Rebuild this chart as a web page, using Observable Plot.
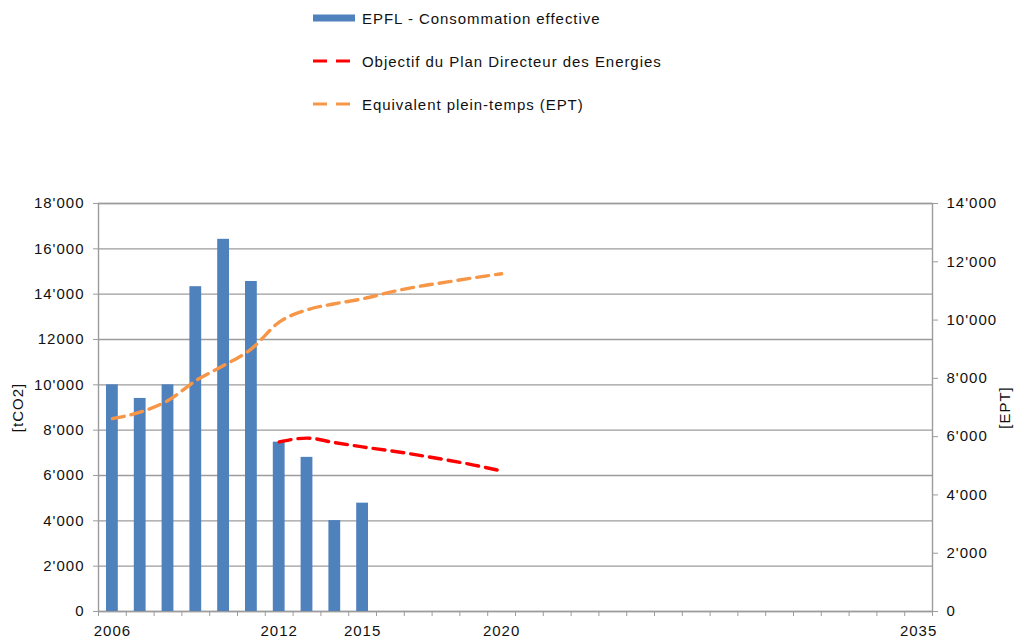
<!DOCTYPE html>
<html>
<head>
<meta charset="utf-8">
<script src="https://cdn.jsdelivr.net/npm/d3@7"></script>
<script src="https://cdn.jsdelivr.net/npm/@observablehq/plot@0.6"></script>
<style>
  html, body { margin: 0; padding: 0; background: #fff; }
  body { width: 1014px; height: 641px; overflow: hidden; font-family: "Liberation Sans", Arial, sans-serif; }
  #legend { position: relative; height: 150px; }
  .item { position: absolute; left: 313px; height: 20px; display: flex; align-items: center; font-size: 15px; letter-spacing: 0.95px; color: #111; }
  .item svg { margin-right: 6px; }
</style>
</head>
<body>
<div id="legend"></div>
<div id="chart"></div>
<script>
// ---- data ----
const categoryFirst = 2006;
const categoryLast = 2035;
const xTickLabels = [2006, 2012, 2015, 2020, 2035];

const barYears  = [2006, 2007, 2008, 2009, 2010, 2011, 2012, 2013, 2014, 2015];
const barValues = [10000, 9400, 10000, 14330, 16420, 14560, 7470, 6800, 4010, 4780];

const targetYears  = [2012, 2013, 2014, 2015, 2016, 2017, 2018, 2019, 2020];
const targetValues = [7480, 7650, 7450, 7260, 7090, 6900, 6690, 6460, 6200];

const eptYears  = [2006, 2007, 2008, 2009, 2010, 2011, 2012, 2013, 2014, 2015, 2016, 2017, 2018, 2019, 2020];
const eptValues = [6620, 6840, 7240, 7920, 8440, 9010, 9930, 10350, 10560, 10730, 10960, 11150, 11300, 11450, 11590];

const leftTicks = [0, 2000, 4000, 6000, 8000, 10000, 12000, 14000, 16000, 18000];
const leftTickLabels = ["0", "2'000", "4'000", "6'000", "8'000", "10'000", "12000", "14'000", "16'000", "18'000"];
const rightTicks = [0, 2000, 4000, 6000, 8000, 10000, 12000, 14000];
const rightTickLabels = ["0", "2'000", "4'000", "6'000", "8'000", "10'000", "12'000", "14'000"];

const leftMax = 18000;
const rightMax = 14000;

const seriesNames = ["EPFL - Consommation effective", "Objectif du Plan Directeur des Energies", "Equivalent plein-temps (EPT)"];
const seriesColors = ["#4F81BD", "#FF0000", "#F79646"];

// ---- derived tables ----
const ratio = leftMax / rightMax;
const bars = barYears.map((year, i) => ({year, value: barValues[i]}));
const target = targetYears.map((year, i) => ({year, value: targetValues[i]}));
const ept = eptYears.map((year, i) => ({year, value: eptValues[i]}));
const categories = d3.range(categoryFirst, categoryLast + 1);
const boundaries = categories.map(y => y - 0.5).concat([categoryLast + 0.5]);

// ---- legend ----
const legend = document.getElementById("legend");
const legendTops = [8, 51, 94];
seriesNames.forEach((name, i) => {
  const div = document.createElement("div");
  div.className = "item";
  div.style.top = legendTops[i] + "px";
  let sw;
  if (i === 0) {
    sw = `<svg width="43" height="20"><rect x="0" y="6.5" width="42" height="7" fill="${seriesColors[i]}"/></svg>`;
  } else {
    sw = `<svg width="43" height="20"><line x1="0" y1="10" x2="14" y2="10" stroke="${seriesColors[i]}" stroke-width="3"/><line x1="23" y1="10" x2="37" y2="10" stroke="${seriesColors[i]}" stroke-width="3"/></svg>`;
  }
  div.innerHTML = sw + `<span>${name}</span>`;
  legend.appendChild(div);
});

// ---- chart ----
const grey = "#9c9c9c";
const chart = Plot.plot({
  width: 1014,
  height: 491,
  marginTop: 53,
  marginBottom: 30,
  marginLeft: 98,
  marginRight: 82,
  style: {fontFamily: "'Liberation Sans', Arial, sans-serif", fontSize: "15px", letterSpacing: "1px", color: "#111", background: "#fff"},
  x: {type: "linear", domain: [categoryFirst - 0.5, categoryLast + 0.5]},
  y: {domain: [0, leftMax]},
  marks: [
    Plot.ruleY(leftTicks, {stroke: grey, strokeWidth: 1.4}),
    Plot.frame({stroke: grey, strokeWidth: 1.4}),
    Plot.rectY(bars, {x1: d => d.year - 0.5, x2: d => d.year + 0.5, y: "value", insetLeft: 8, insetRight: 8, fill: seriesColors[0]}),
    Plot.line(ept, {x: "year", y: d => d.value * ratio, stroke: seriesColors[2], strokeWidth: 3.4, strokeDasharray: "12,7", curve: "monotone-x"}),
    Plot.line(target, {x: "year", y: "value", stroke: seriesColors[1], strokeWidth: 3.4, strokeDasharray: "12,7", curve: "monotone-x"}),
    Plot.axisY({ticks: leftTicks, tickFormat: (d, i) => leftTickLabels[i], tickSize: 5, tickPadding: 9, stroke: grey, fill: "#111", label: null}),
    Plot.axisY({anchor: "right", ticks: rightTicks.map(v => v * ratio), tickFormat: (d, i) => rightTickLabels[i], tickSize: 5, tickPadding: 9, stroke: grey, fill: "#111", label: null}),
    Plot.axisX({ticks: boundaries, tickFormat: () => "", tickSize: 5, stroke: grey, label: null}),
    Plot.axisX({ticks: xTickLabels, tickFormat: d => String(d), tickSize: 0, tickPadding: 14, fill: "#111", label: null}),
    Plot.text(["[tCO2]"], {frameAnchor: "left", textAnchor: "middle", dx: -80, rotate: -90, fill: "#111"}),
    Plot.text(["[EPT]"], {frameAnchor: "right", textAnchor: "middle", dx: 73, rotate: -90, fill: "#111"})
  ]
});
document.getElementById("chart").appendChild(chart);
</script>
</body>
</html>
